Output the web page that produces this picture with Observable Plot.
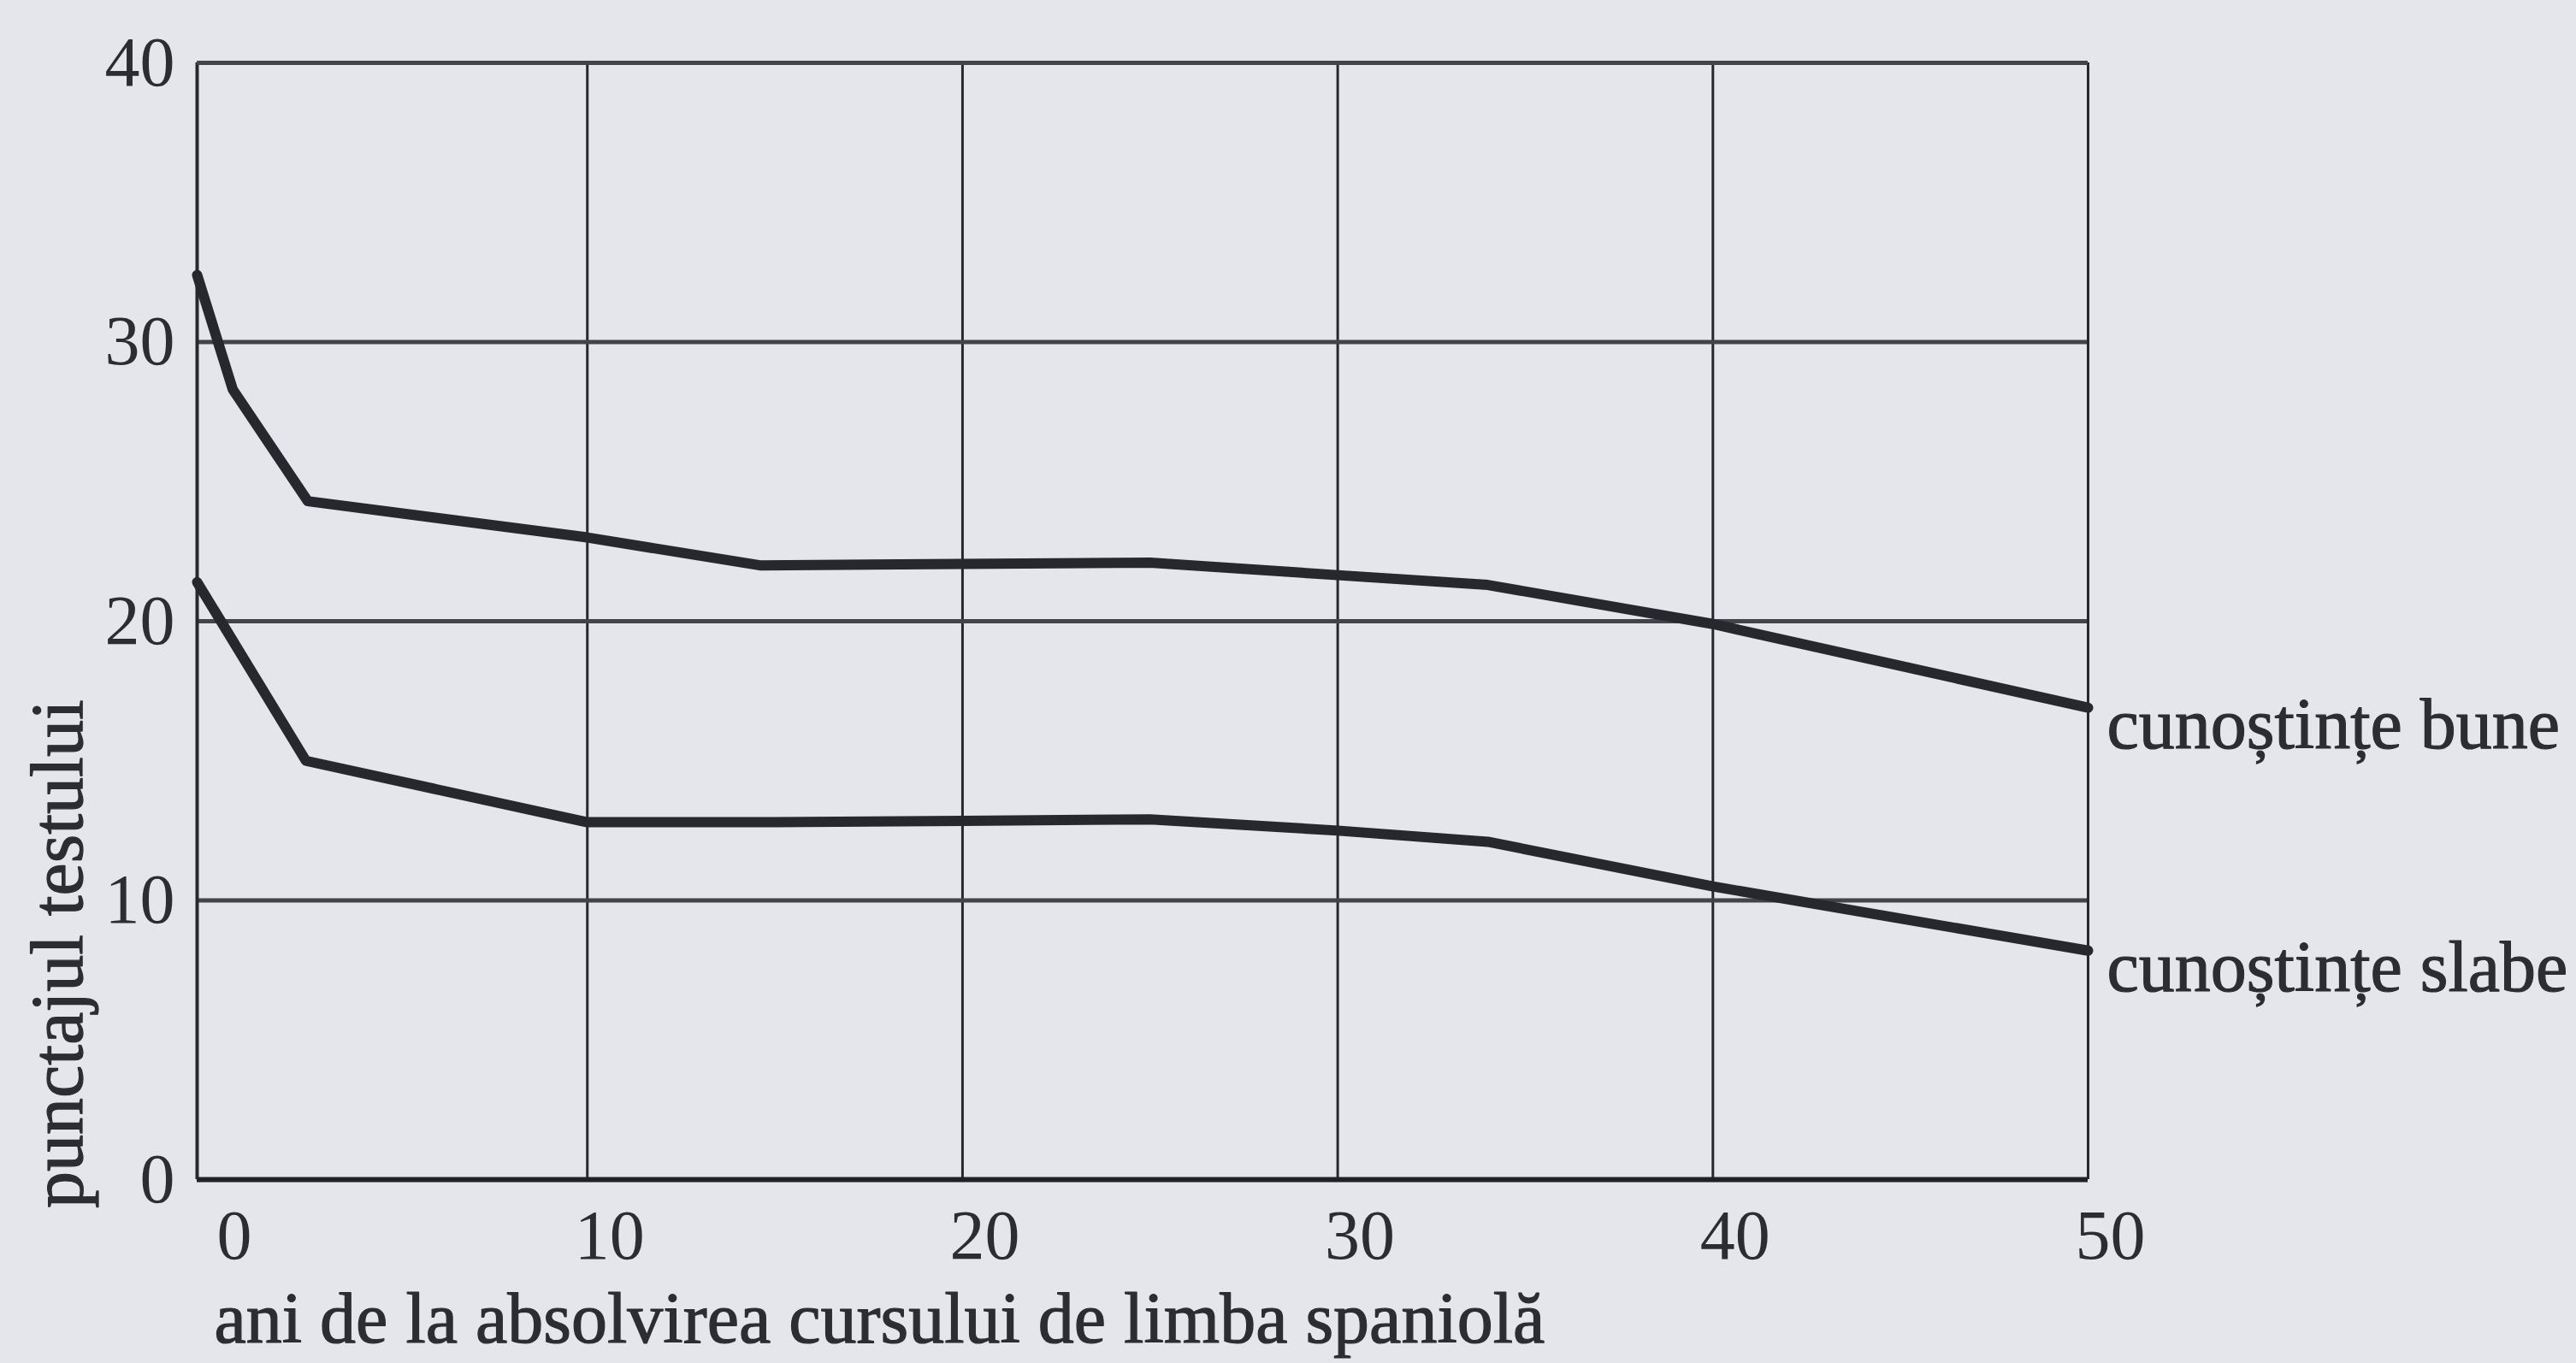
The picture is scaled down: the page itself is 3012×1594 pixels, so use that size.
<!DOCTYPE html>
<html>
<head>
<meta charset="utf-8">
<script src="https://cdn.jsdelivr.net/npm/d3@7"></script>
<script src="https://cdn.jsdelivr.net/npm/@observablehq/plot@0.6"></script>
<style>
  html, body { margin: 0; padding: 0; background: #e4e6eb; }
  #chart svg { display: block; background: #e4e6eb; }
</style>
</head>
<body>
<div id="chart"></div>
<script>
// ---- data ----
const xTicks = [0, 10, 20, 30, 40, 50];
const yTicks = [0, 10, 20, 30, 40];
const xGrid = [10, 20, 30, 40];
const yGrid = [10, 20, 30];
const xDomain = [-0.4, 50];
const yDomain = [0, 40];

const seriesNames = ["cunoștințe bune", "cunoștințe slabe"];
const yearsBune  = [-0.4, 0.55, 2.55, 10, 14.6, 20, 25, 30, 34, 40, 50];
const scoresBune = [32.4, 28.3, 24.3, 23.0, 22.0, 22.05, 22.1, 21.65, 21.3, 19.9, 16.9];
const yearsSlabe  = [-0.4, 2.5, 10, 15, 20, 25, 30, 34, 40, 50];
const scoresSlabe = [21.4, 15.0, 12.8, 12.8, 12.85, 12.9, 12.5, 12.1, 10.5, 8.2];

const xTitle = "ani de la absolvirea cursului de limba spaniolă";
const yTitle = "punctajul testului";

// ---- tables built from the arrays ----
const bune = yearsBune.map((x, i) => ({x, y: scoresBune[i]}));
const slabe = yearsSlabe.map((x, i) => ({x, y: scoresSlabe[i]}));
const ends = [
  {...bune[bune.length - 1], name: seriesNames[0]},
  {...slabe[slabe.length - 1], name: seriesNames[1]}
];

const ink = "#26282e";
const txt = "#2c2d32";
const font = "'Liberation Serif', 'DejaVu Serif', serif";

const chart = Plot.plot({
  width: 3012,
  height: 1594,
  marginLeft: 230,
  marginRight: 571,
  marginTop: 73,
  marginBottom: 215,
  style: {background: "#e4e6eb", fontFamily: font, color: txt},
  x: {domain: xDomain},
  y: {domain: yDomain},
  marks: [
    // grid
    Plot.ruleX(xGrid, {stroke: "#26282d", strokeWidth: 3}),
    Plot.ruleY(yGrid, {stroke: "#42444a", strokeWidth: 5}),
    // frame
    Plot.ruleX([xDomain[0]], {stroke: "#26282d", strokeWidth: 4}),
    Plot.ruleX([xDomain[1]], {stroke: "#26282d", strokeWidth: 3}),
    Plot.ruleY([yDomain[1]], {stroke: "#42444a", strokeWidth: 5}),
    Plot.ruleY([yDomain[0]], {stroke: "#1f2126", strokeWidth: 6}),
    // axes
    Plot.axisX(xTicks, {tickSize: 0, tickPadding: 34, dx: 26, fontSize: 82, label: null, fill: txt, stroke: txt, strokeWidth: 1.2}),
    Plot.axisY(yTicks, {tickSize: 0, tickPadding: 26, fontSize: 82, label: null, fill: txt, stroke: txt, strokeWidth: 1.2}),
    // curves
    Plot.line(bune, {x: "x", y: "y", stroke: ink, strokeWidth: 12, strokeLinejoin: "round"}),
    Plot.line(slabe, {x: "x", y: "y", stroke: ink, strokeWidth: 12, strokeLinejoin: "round"}),
    // series labels
    Plot.text(ends, {x: "x", y: "y", text: "name", textAnchor: "start", dx: 22, dy: 20, fontSize: 84, fill: txt, stroke: txt, strokeWidth: 1.2}),
    // axis titles
    Plot.text([xTitle], {text: d => d, frameAnchor: "bottom-left", textAnchor: "start", lineAnchor: "middle", dx: 20, dy: 164, fontSize: 84, fill: txt, stroke: txt, strokeWidth: 1.2}),
    Plot.text([yTitle], {text: d => d, frameAnchor: "bottom-left", textAnchor: "middle", lineAnchor: "middle", rotate: -90, dx: -162, dy: -264, fontSize: 86, fill: txt, stroke: txt, strokeWidth: 1.2})
  ]
});
document.getElementById("chart").appendChild(chart);
</script>
</body>
</html>
